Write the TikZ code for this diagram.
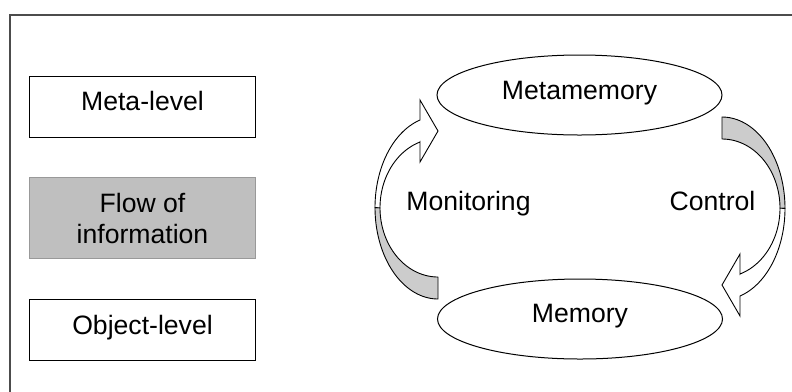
\documentclass[tikz,border=0pt]{standalone}
\usepackage{fontspec}
\setmainfont{Liberation Sans}
\usetikzlibrary{shapes.geometric}
\begin{document}
\begin{tikzpicture}[x=1bp,y=-1bp,
  lbl/.style={inner sep=0pt, anchor=base, font=\fontsize{26.6bp}{31bp}\selectfont},
  levelbox/.style={draw=black, line width=1bp, minimum width=225bp, minimum height=61bp, inner sep=0pt},
  flowbox/.style={draw=black!40, fill=black!25, line width=1bp, minimum width=225bp, minimum height=81bp, inner sep=0pt},
  memnode/.style={ellipse, draw=black, line width=1bp, minimum width=285bp, minimum height=80bp, inner sep=0pt},
  bandback/.style={draw=black, fill=black!20, line width=0.9bp, line join=round},
  bandfront/.style={draw=black, fill=white, line width=0.9bp, line join=miter}]
\useasboundingbox (0,0) rectangle (792,391);
\clip (0,0) rectangle (792,391);

% open frame running off the page
\draw[black!70, line width=1.2bp] (10,400) -- (10,15) -- (800,15);

% legend boxes
\node[levelbox] (metaBox) at (142.5,106.5) {};
\node[flowbox]  (flowBox) at (142.5,217.5) {};
\node[levelbox] (objBox)  at (142.5,329.5) {};
\node[lbl] (metaTxt) at (142.5,110.5) {Meta-level};
\node[lbl] (flowTxtA) at (142.5,212) {Flow of};
\node[lbl] (flowTxtB) at (142.5,243) {information};
\node[lbl] (objTxt) at (142.5,334) {Object-level};

% curved block arrows: monitoring (left) and control (right, turned half way round)
\foreach \r in {0,180}{
  \begin{scope}[rotate around={\r:(580,208)}]
    \draw[bandback]
      plot[domain=90:180, samples=40, variable=\t] ({438+63*cos(\t)},{207.6+91.4*sin(\t)})
      -- plot[domain=180:90, samples=40, variable=\t] ({438+58*cos(\t)},{207.8+69.2*sin(\t)})
      -- cycle;
    \draw[bandfront]
      plot[domain=180:253.4, samples=40, variable=\t] ({438+63*cos(\t)},{207.6+91.4*sin(\t)})
      -- (420,100) -- (438,131) -- (420,162) -- (420,142)
      -- plot[domain=251.9:180, samples=40, variable=\t] ({438+58*cos(\t)},{207.8+69.2*sin(\t)})
      -- cycle;
  \end{scope}
}

% memory levels
\node[memnode] (metamem) at (579.5,95) {};
\node[memnode] (mem) at (580,319) {};
\node[lbl] (metamemTxt) at (579.5,99.5) {Metamemory};
\node[lbl] (memTxt) at (580,322.5) {Memory};

% arrow labels
\node[lbl] (monTxt) at (468.5,210) {Monitoring};
\node[lbl] (ctrlTxt) at (712.5,210) {Control};
\end{tikzpicture}
\end{document}
